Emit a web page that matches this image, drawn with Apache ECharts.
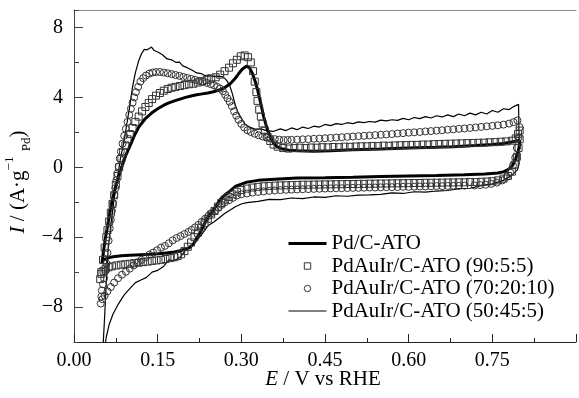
<!DOCTYPE html>
<html>
<head>
<meta charset="utf-8">
<script src="https://cdn.jsdelivr.net/npm/echarts@6/dist/echarts.min.js"></script>
<style>
  html, body { margin: 0; padding: 0; background: #fff; }
  #chart { width: 579px; height: 398px; }
</style>
</head>
<body>
<div id="chart"></div>
<script>
const seriesNames = ['Pd/C-ATO', 'PdAuIr/C-ATO (90:5:5)', 'PdAuIr/C-ATO (70:20:10)', 'PdAuIr/C-ATO (50:45:5)']
const xTickLabels = ['0.00', '0.15', '0.30', '0.45', '0.60', '0.75']
const yTickLabels = [-8, -4, 0, 4, 8]

// Pd/C-ATO, thick line [E (V), I (A/g)]
const pdUp = [[0.050,-5.5],[0.053,-4.8],[0.056,-4.1],[0.060,-3.4],[0.063,-2.8],[0.066,-2.3],[0.069,-1.85],[0.072,-1.45],[0.076,-0.95],[0.080,-0.5],[0.086,0.06],[0.093,0.7],[0.100,1.2],[0.108,1.8],[0.116,2.3],[0.127,2.75],[0.139,3.1],[0.150,3.35],[0.161,3.55],[0.170,3.68],[0.180,3.8],[0.190,3.9],[0.200,4.0],[0.210,4.08],[0.220,4.15],[0.230,4.2],[0.240,4.25],[0.250,4.32],[0.260,4.42],[0.270,4.55],[0.280,4.78],[0.288,5.05],[0.295,5.35],[0.302,5.62],[0.309,5.78],[0.314,5.72],[0.320,5.35],[0.325,4.9],[0.329,4.45],[0.333,3.9],[0.337,3.35],[0.340,2.9],[0.344,2.45],[0.348,2.05],[0.352,1.72],[0.357,1.42],[0.363,1.2],[0.372,1.06],[0.385,0.98],[0.40,0.94],[0.43,0.92],[0.46,0.95],[0.50,1.0],[0.55,1.04],[0.60,1.1],[0.65,1.14],[0.68,1.18],[0.72,1.24],[0.75,1.3],[0.77,1.36],[0.785,1.45],[0.795,1.52],[0.799,1.55]]
const pdDown = [[0.799,1.3],[0.796,0.9],[0.792,0.5],[0.787,0.15],[0.780,-0.1],[0.771,-0.25],[0.760,-0.33],[0.737,-0.38],[0.70,-0.43],[0.65,-0.47],[0.60,-0.5],[0.55,-0.53],[0.50,-0.57],[0.45,-0.6],[0.40,-0.62],[0.36,-0.68],[0.33,-0.75],[0.31,-0.85],[0.29,-1.08],[0.28,-1.35],[0.27,-1.6],[0.262,-1.85],[0.255,-2.2],[0.248,-2.55],[0.24,-2.85],[0.233,-3.3],[0.226,-3.75],[0.22,-4.05],[0.214,-4.4],[0.207,-4.6],[0.200,-4.68],[0.19,-4.78],[0.18,-4.85],[0.165,-4.9],[0.15,-4.95],[0.135,-4.98],[0.12,-5.0],[0.10,-5.03],[0.085,-5.07],[0.07,-5.12],[0.06,-5.2],[0.053,-5.3],[0.050,-5.5]]

// PdAuIr 90:5:5, squares
const sqUp = [[0.047,-6.4],[0.049,-6.0],[0.052,-5.3],[0.055,-4.6],[0.058,-4.0],[0.060,-3.6],[0.063,-3.1],[0.066,-2.6],[0.069,-2.1],[0.072,-1.6],[0.075,-1.0],[0.078,-0.5],[0.081,0.0],[0.085,0.5],[0.088,0.85],[0.092,1.25],[0.096,1.6],[0.100,1.9],[0.105,2.25],[0.110,2.6],[0.116,2.9],[0.122,3.2],[0.128,3.45],[0.134,3.68],[0.140,3.9],[0.147,4.1],[0.154,4.25],[0.161,4.38],[0.168,4.48],[0.175,4.55],[0.182,4.6],[0.190,4.65],[0.198,4.7],[0.206,4.75],[0.214,4.78],[0.222,4.85],[0.230,4.92],[0.238,5.0],[0.246,5.08],[0.254,5.15],[0.262,5.3],[0.270,5.5],[0.278,5.7],[0.285,5.95],[0.292,6.15],[0.299,6.35],[0.306,6.4],[0.312,6.3],[0.317,6.0],[0.321,5.5],[0.324,4.9],[0.327,4.3],[0.329,3.8],[0.332,3.3],[0.335,2.9],[0.338,2.5],[0.342,2.1],[0.347,1.75],[0.352,1.5],[0.358,1.3],[0.365,1.18],[0.375,1.1],[0.385,1.07],[0.395,1.1],[0.405,1.12],[0.415,1.1],[0.425,1.13],[0.435,1.12],[0.445,1.15],[0.455,1.14],[0.465,1.16],[0.475,1.15],[0.485,1.18],[0.495,1.17],[0.505,1.19],[0.515,1.2],[0.525,1.2],[0.535,1.22],[0.545,1.21],[0.555,1.24],[0.565,1.23],[0.575,1.25],[0.585,1.26],[0.595,1.27],[0.605,1.28],[0.615,1.28],[0.625,1.3],[0.635,1.3],[0.645,1.32],[0.655,1.33],[0.665,1.34],[0.675,1.35],[0.685,1.36],[0.695,1.37],[0.705,1.38],[0.715,1.39],[0.725,1.4],[0.735,1.41],[0.745,1.43],[0.755,1.44],[0.765,1.46],[0.775,1.48],[0.785,1.52],[0.792,1.65],[0.796,1.9],[0.799,2.1]]
const sqDown = [[0.799,1.6],[0.797,1.1],[0.794,0.6],[0.790,0.15],[0.785,-0.25],[0.778,-0.5],[0.770,-0.65],[0.760,-0.75],[0.750,-0.8],[0.740,-0.82],[0.730,-0.83],[0.720,-0.85],[0.710,-0.84],[0.700,-0.86],[0.690,-0.86],[0.680,-0.87],[0.670,-0.87],[0.660,-0.88],[0.650,-0.88],[0.640,-0.89],[0.630,-0.89],[0.620,-0.9],[0.610,-0.9],[0.600,-0.91],[0.590,-0.91],[0.580,-0.92],[0.570,-0.92],[0.560,-0.93],[0.550,-0.93],[0.540,-0.94],[0.530,-0.94],[0.520,-0.95],[0.510,-0.95],[0.500,-0.96],[0.490,-0.96],[0.480,-0.97],[0.470,-0.97],[0.460,-0.98],[0.450,-0.98],[0.440,-0.99],[0.430,-0.99],[0.420,-1.0],[0.410,-1.0],[0.400,-1.01],[0.390,-1.02],[0.380,-1.03],[0.370,-1.04],[0.360,-1.05],[0.350,-1.07],[0.340,-1.09],[0.330,-1.12],[0.320,-1.16],[0.310,-1.22],[0.300,-1.3],[0.292,-1.4],[0.284,-1.55],[0.277,-1.7],[0.270,-1.85],[0.264,-2.05],[0.258,-2.25],[0.252,-2.5],[0.246,-2.7],[0.240,-2.95],[0.234,-3.2],[0.228,-3.45],[0.222,-3.75],[0.216,-4.0],[0.210,-4.3],[0.204,-4.55],[0.198,-4.8],[0.192,-4.98],[0.186,-5.08],[0.180,-5.15],[0.172,-5.2],[0.164,-5.25],[0.156,-5.3],[0.148,-5.33],[0.140,-5.36],[0.132,-5.4],[0.124,-5.43],[0.116,-5.46],[0.108,-5.49],[0.100,-5.52],[0.092,-5.55],[0.084,-5.58],[0.076,-5.62],[0.068,-5.67],[0.062,-5.72],[0.057,-5.8],[0.053,-5.92],[0.049,-6.1]]

// PdAuIr 70:20:10, circles
const ciUp = [[0.048,-7.8],[0.049,-7.4],[0.050,-7.05],[0.052,-6.7],[0.054,-6.35],[0.056,-5.95],[0.058,-5.5],[0.060,-4.9],[0.062,-4.2],[0.064,-3.5],[0.066,-3.0],[0.068,-2.5],[0.070,-2.05],[0.072,-1.6],[0.074,-1.2],[0.076,-0.75],[0.078,-0.35],[0.080,0.05],[0.082,0.5],[0.084,0.9],[0.087,1.35],[0.090,1.8],[0.093,2.2],[0.096,2.6],[0.099,3.0],[0.102,3.35],[0.105,3.7],[0.108,4.0],[0.111,4.3],[0.115,4.6],[0.119,4.9],[0.124,5.1],[0.129,5.25],[0.135,5.36],[0.141,5.42],[0.147,5.45],[0.154,5.45],[0.161,5.42],[0.168,5.38],[0.175,5.33],[0.182,5.28],[0.189,5.23],[0.196,5.17],[0.203,5.11],[0.210,5.06],[0.217,5.0],[0.224,4.95],[0.231,4.89],[0.238,4.83],[0.245,4.76],[0.251,4.69],[0.257,4.6],[0.262,4.5],[0.267,4.35],[0.271,4.15],[0.275,3.95],[0.279,3.75],[0.283,3.5],[0.287,3.2],[0.291,2.95],[0.295,2.72],[0.300,2.48],[0.305,2.28],[0.311,2.12],[0.317,2.02],[0.324,1.92],[0.331,1.83],[0.338,1.76],[0.345,1.7],[0.352,1.65],[0.360,1.61],[0.368,1.58],[0.376,1.56],[0.383,1.56],[0.39,1.57],[0.40,1.58],[0.41,1.6],[0.42,1.61],[0.43,1.63],[0.44,1.64],[0.45,1.66],[0.46,1.68],[0.47,1.7],[0.48,1.72],[0.49,1.74],[0.50,1.76],[0.51,1.78],[0.52,1.8],[0.53,1.82],[0.54,1.84],[0.55,1.86],[0.56,1.88],[0.57,1.9],[0.58,1.93],[0.59,1.95],[0.60,1.98],[0.61,2.0],[0.62,2.02],[0.63,2.05],[0.64,2.07],[0.65,2.1],[0.66,2.12],[0.67,2.15],[0.68,2.17],[0.69,2.2],[0.70,2.22],[0.71,2.25],[0.72,2.28],[0.73,2.31],[0.74,2.34],[0.75,2.37],[0.76,2.4],[0.77,2.44],[0.78,2.5],[0.788,2.58],[0.795,2.68]]
const ciDown = [[0.799,2.3],[0.797,1.7],[0.794,1.1],[0.791,0.55],[0.787,0.1],[0.782,-0.3],[0.776,-0.55],[0.768,-0.75],[0.758,-0.88],[0.748,-0.95],[0.738,-1.0],[0.728,-1.02],[0.718,-1.04],[0.70,-1.05],[0.69,-1.06],[0.68,-1.06],[0.67,-1.07],[0.66,-1.08],[0.65,-1.08],[0.64,-1.09],[0.63,-1.1],[0.62,-1.1],[0.61,-1.11],[0.60,-1.12],[0.59,-1.12],[0.58,-1.13],[0.57,-1.14],[0.56,-1.14],[0.55,-1.15],[0.54,-1.16],[0.53,-1.16],[0.52,-1.17],[0.51,-1.18],[0.50,-1.18],[0.49,-1.19],[0.48,-1.2],[0.47,-1.2],[0.46,-1.21],[0.45,-1.22],[0.44,-1.23],[0.43,-1.24],[0.42,-1.25],[0.41,-1.26],[0.40,-1.27],[0.39,-1.28],[0.38,-1.29],[0.37,-1.31],[0.36,-1.33],[0.35,-1.35],[0.34,-1.38],[0.33,-1.41],[0.32,-1.45],[0.31,-1.5],[0.30,-1.55],[0.292,-1.62],[0.285,-1.75],[0.278,-1.88],[0.271,-2.0],[0.265,-2.15],[0.259,-2.32],[0.253,-2.48],[0.247,-2.62],[0.241,-2.78],[0.235,-2.95],[0.229,-3.12],[0.223,-3.3],[0.217,-3.44],[0.211,-3.58],[0.205,-3.7],[0.198,-3.82],[0.191,-3.94],[0.184,-4.05],[0.177,-4.18],[0.170,-4.35],[0.163,-4.5],[0.156,-4.6],[0.149,-4.75],[0.142,-4.88],[0.135,-5.0],[0.128,-5.15],[0.121,-5.3],[0.114,-5.45],[0.107,-5.62],[0.100,-5.8],[0.093,-5.98],[0.086,-6.15],[0.079,-6.35],[0.072,-6.6],[0.066,-6.85],[0.060,-7.1],[0.055,-7.35],[0.051,-7.55]]

// PdAuIr 50:45:5, thin line
const thinUp = [[0.052,-10.3],[0.055,-8.5],[0.058,-6.5],[0.061,-4.8],[0.066,-3.3],[0.072,-1.8],[0.078,-0.6],[0.083,0.45],[0.089,1.4],[0.094,2.35],[0.100,3.5],[0.105,4.6],[0.110,5.4],[0.116,6.1],[0.121,6.5],[0.126,6.75],[0.131,6.72],[0.135,6.8],[0.139,6.88],[0.143,6.7],[0.150,6.6],[0.158,6.45],[0.167,6.2],[0.175,6.15],[0.183,6.0],[0.189,6.02],[0.195,5.8],[0.203,5.7],[0.212,5.55],[0.220,5.4],[0.228,5.36],[0.234,5.25],[0.242,5.28],[0.250,5.18],[0.258,5.22],[0.267,5.17],[0.273,5.0],[0.279,4.7],[0.284,4.2],[0.288,3.7],[0.293,3.2],[0.300,2.8],[0.307,2.45],[0.315,2.3],[0.324,2.18],[0.335,2.2],[0.345,2.1],[0.357,2.05],[0.37,2.2],[0.38,2.1],[0.39,2.25],[0.40,2.15],[0.41,2.3],[0.42,2.22],[0.43,2.35],[0.44,2.3],[0.45,2.45],[0.46,2.38],[0.47,2.5],[0.48,2.45],[0.49,2.55],[0.50,2.5],[0.51,2.6],[0.52,2.55],[0.53,2.62],[0.54,2.58],[0.55,2.7],[0.56,2.65],[0.57,2.72],[0.58,2.68],[0.59,2.8],[0.60,2.72],[0.61,2.85],[0.62,2.78],[0.63,2.9],[0.64,2.82],[0.65,2.95],[0.66,2.88],[0.67,3.0],[0.68,2.9],[0.69,3.05],[0.70,2.95],[0.71,3.1],[0.72,3.0],[0.73,3.15],[0.74,3.05],[0.75,3.25],[0.76,3.15],[0.77,3.35],[0.78,3.3],[0.79,3.5],[0.797,3.6]]
const thinDown = [[0.798,1.5],[0.798,0.2],[0.795,-0.15],[0.785,-0.45],[0.77,-0.75],[0.75,-0.95],[0.73,-1.05],[0.71,-1.2],[0.69,-1.22],[0.67,-1.33],[0.65,-1.36],[0.63,-1.42],[0.61,-1.4],[0.59,-1.5],[0.57,-1.47],[0.55,-1.55],[0.53,-1.58],[0.51,-1.6],[0.49,-1.66],[0.47,-1.63],[0.45,-1.72],[0.43,-1.7],[0.41,-1.8],[0.39,-1.76],[0.37,-1.85],[0.35,-1.84],[0.33,-1.95],[0.31,-2.02],[0.30,-2.1],[0.29,-2.25],[0.28,-2.45],[0.27,-2.65],[0.26,-2.9],[0.25,-3.15],[0.24,-3.35],[0.23,-3.8],[0.22,-4.2],[0.21,-4.55],[0.20,-4.75],[0.19,-5.15],[0.18,-5.35],[0.17,-5.3],[0.16,-5.7],[0.15,-5.9],[0.14,-6.0],[0.13,-6.3],[0.12,-6.45],[0.11,-6.6],[0.10,-6.95],[0.09,-7.3],[0.08,-7.8],[0.07,-8.4],[0.063,-9.0],[0.058,-9.7],[0.055,-10.3]]

const serif = 'Liberation Serif'
const minus = (v) => String(v).replace('-', '\u2212')
const markerStyle = { color: 'rgba(255,255,255,0)', borderColor: '#333', borderWidth: 1 }

const chart = echarts.init(document.getElementById('chart'))

const markerSeries = (name, data, symbol) => ({
  name,
  type: 'line',
  data,
  symbol,
  symbolSize: 7,
  showSymbol: true,
  showAllSymbol: true,
  lineStyle: { opacity: 0, width: 0 },
  itemStyle: markerStyle,
  xAxisIndex: 0,
  yAxisIndex: 0,
})

const option = {
  animation: false,
  backgroundColor: '#fff',
  grid: [
    { left: 74, top: 10, right: -31, bottom: 56 },
    // second grid only to carry the labelled major ticks of the y axis (-8..8)
    { left: 74, top: 27.47, right: -31, bottom: 90.95 },
  ],
  xAxis: [
    {
      gridIndex: 0,
      type: 'value',
      min: 0,
      max: 0.9,
      interval: 0.15,
      axisLine: { onZero: false, lineStyle: { color: '#222', width: 1 } },
      axisTick: { inside: true, length: 8, lineStyle: { color: '#222' } },
      minorTick: { show: true, splitNumber: 2, length: 4, lineStyle: { color: '#222' } },
      splitLine: { show: false },
      axisLabel: {
        color: '#000',
        fontFamily: serif,
        fontSize: 20,
        margin: 9,
        formatter: (v) => (xTickLabels.includes(v.toFixed(2)) ? v.toFixed(2) : ''),
      },
    },
    { gridIndex: 1, type: 'value', min: 0, max: 0.9, show: false },
    // top frame line
    {
      gridIndex: 0,
      type: 'value',
      position: 'top',
      min: 0,
      max: 0.9,
      axisLine: { show: true, onZero: false, lineStyle: { color: '#8a8a8a', width: 1 } },
      axisTick: { show: false },
      axisLabel: { show: false },
      splitLine: { show: false },
    },
  ],
  yAxis: [
    {
      gridIndex: 0,
      type: 'value',
      min: -10,
      max: 9,
      interval: 2,
      axisLine: { show: true, onZero: false, lineStyle: { color: '#444', width: 1 } },
      axisTick: { show: true, inside: true, length: 5, lineStyle: { color: '#444' } },
      axisLabel: { show: false },
      splitLine: { show: false },
    },
    {
      gridIndex: 1,
      type: 'value',
      min: -8,
      max: 8,
      interval: 4,
      axisLine: { show: false },
      axisTick: { show: true, inside: true, length: 9, lineStyle: { color: '#444' } },
      axisLabel: {
        color: '#000',
        fontFamily: serif,
        fontSize: 20,
        margin: 11,
        formatter: (v) => (yTickLabels.includes(v) ? minus(v) : ''),
      },
      splitLine: { show: false },
    },
  ],
  legend: {
    orient: 'vertical',
    left: 287,
    top: 233,
    padding: 0,
    itemWidth: 38,
    itemHeight: 8,
    itemGap: 1.5,
    selectedMode: false,
    textStyle: { fontFamily: serif, fontSize: 21, color: '#000' },
    data: [
      { name: seriesNames[0], itemStyle: { opacity: 0 }, lineStyle: { color: '#000', width: 3, opacity: 1 } },
      { name: seriesNames[1], lineStyle: { opacity: 0 }, itemStyle: markerStyle },
      { name: seriesNames[2], lineStyle: { opacity: 0 }, itemStyle: markerStyle },
      { name: seriesNames[3], itemStyle: { opacity: 0 }, lineStyle: { color: '#000', width: 1.2, opacity: 1 } },
    ],
  },
  graphic: [
    {
      type: 'text',
      x: 323,
      y: 379,
      style: {
        text: '{i|E} / V vs RHE',
        fill: '#000',
        font: '21px "Liberation Serif"',
        align: 'center',
        verticalAlign: 'middle',
        rich: { i: { fontStyle: 'italic', fontFamily: serif, fontSize: 21 } },
      },
    },
    {
      type: 'text',
      x: 18,
      y: 182,
      rotation: Math.PI / 2,
      style: {
        text: '{i|I} / (A·g{sup|\u22121} {sub|Pd})',
        fill: '#000',
        font: '21px "Liberation Serif"',
        align: 'center',
        verticalAlign: 'middle',
        lineHeight: 30,
        rich: {
          i: { fontStyle: 'italic', fontFamily: serif, fontSize: 21, lineHeight: 30 },
          sup: { fontFamily: serif, fontSize: 13, verticalAlign: 'top', lineHeight: 30 },
          sub: { fontFamily: serif, fontSize: 13, verticalAlign: 'bottom', lineHeight: 30 },
        },
      },
    },
  ],
  series: [
    markerSeries(seriesNames[2], ciUp.concat(ciDown), 'circle'),
    markerSeries(seriesNames[1], sqUp.concat(sqDown), 'rect'),
    {
      name: seriesNames[3],
      type: 'line',
      data: thinUp.concat(thinDown),
      symbol: 'none',
      lineStyle: { color: '#000', width: 1.2 },
      itemStyle: { color: '#000' },
    },
    {
      name: seriesNames[0],
      type: 'line',
      data: pdUp.concat(pdDown),
      symbol: 'none',
      lineStyle: { color: '#000', width: 3 },
      itemStyle: { color: '#000' },
    },
  ],
}

chart.setOption(option)
</script>
</body>
</html>
